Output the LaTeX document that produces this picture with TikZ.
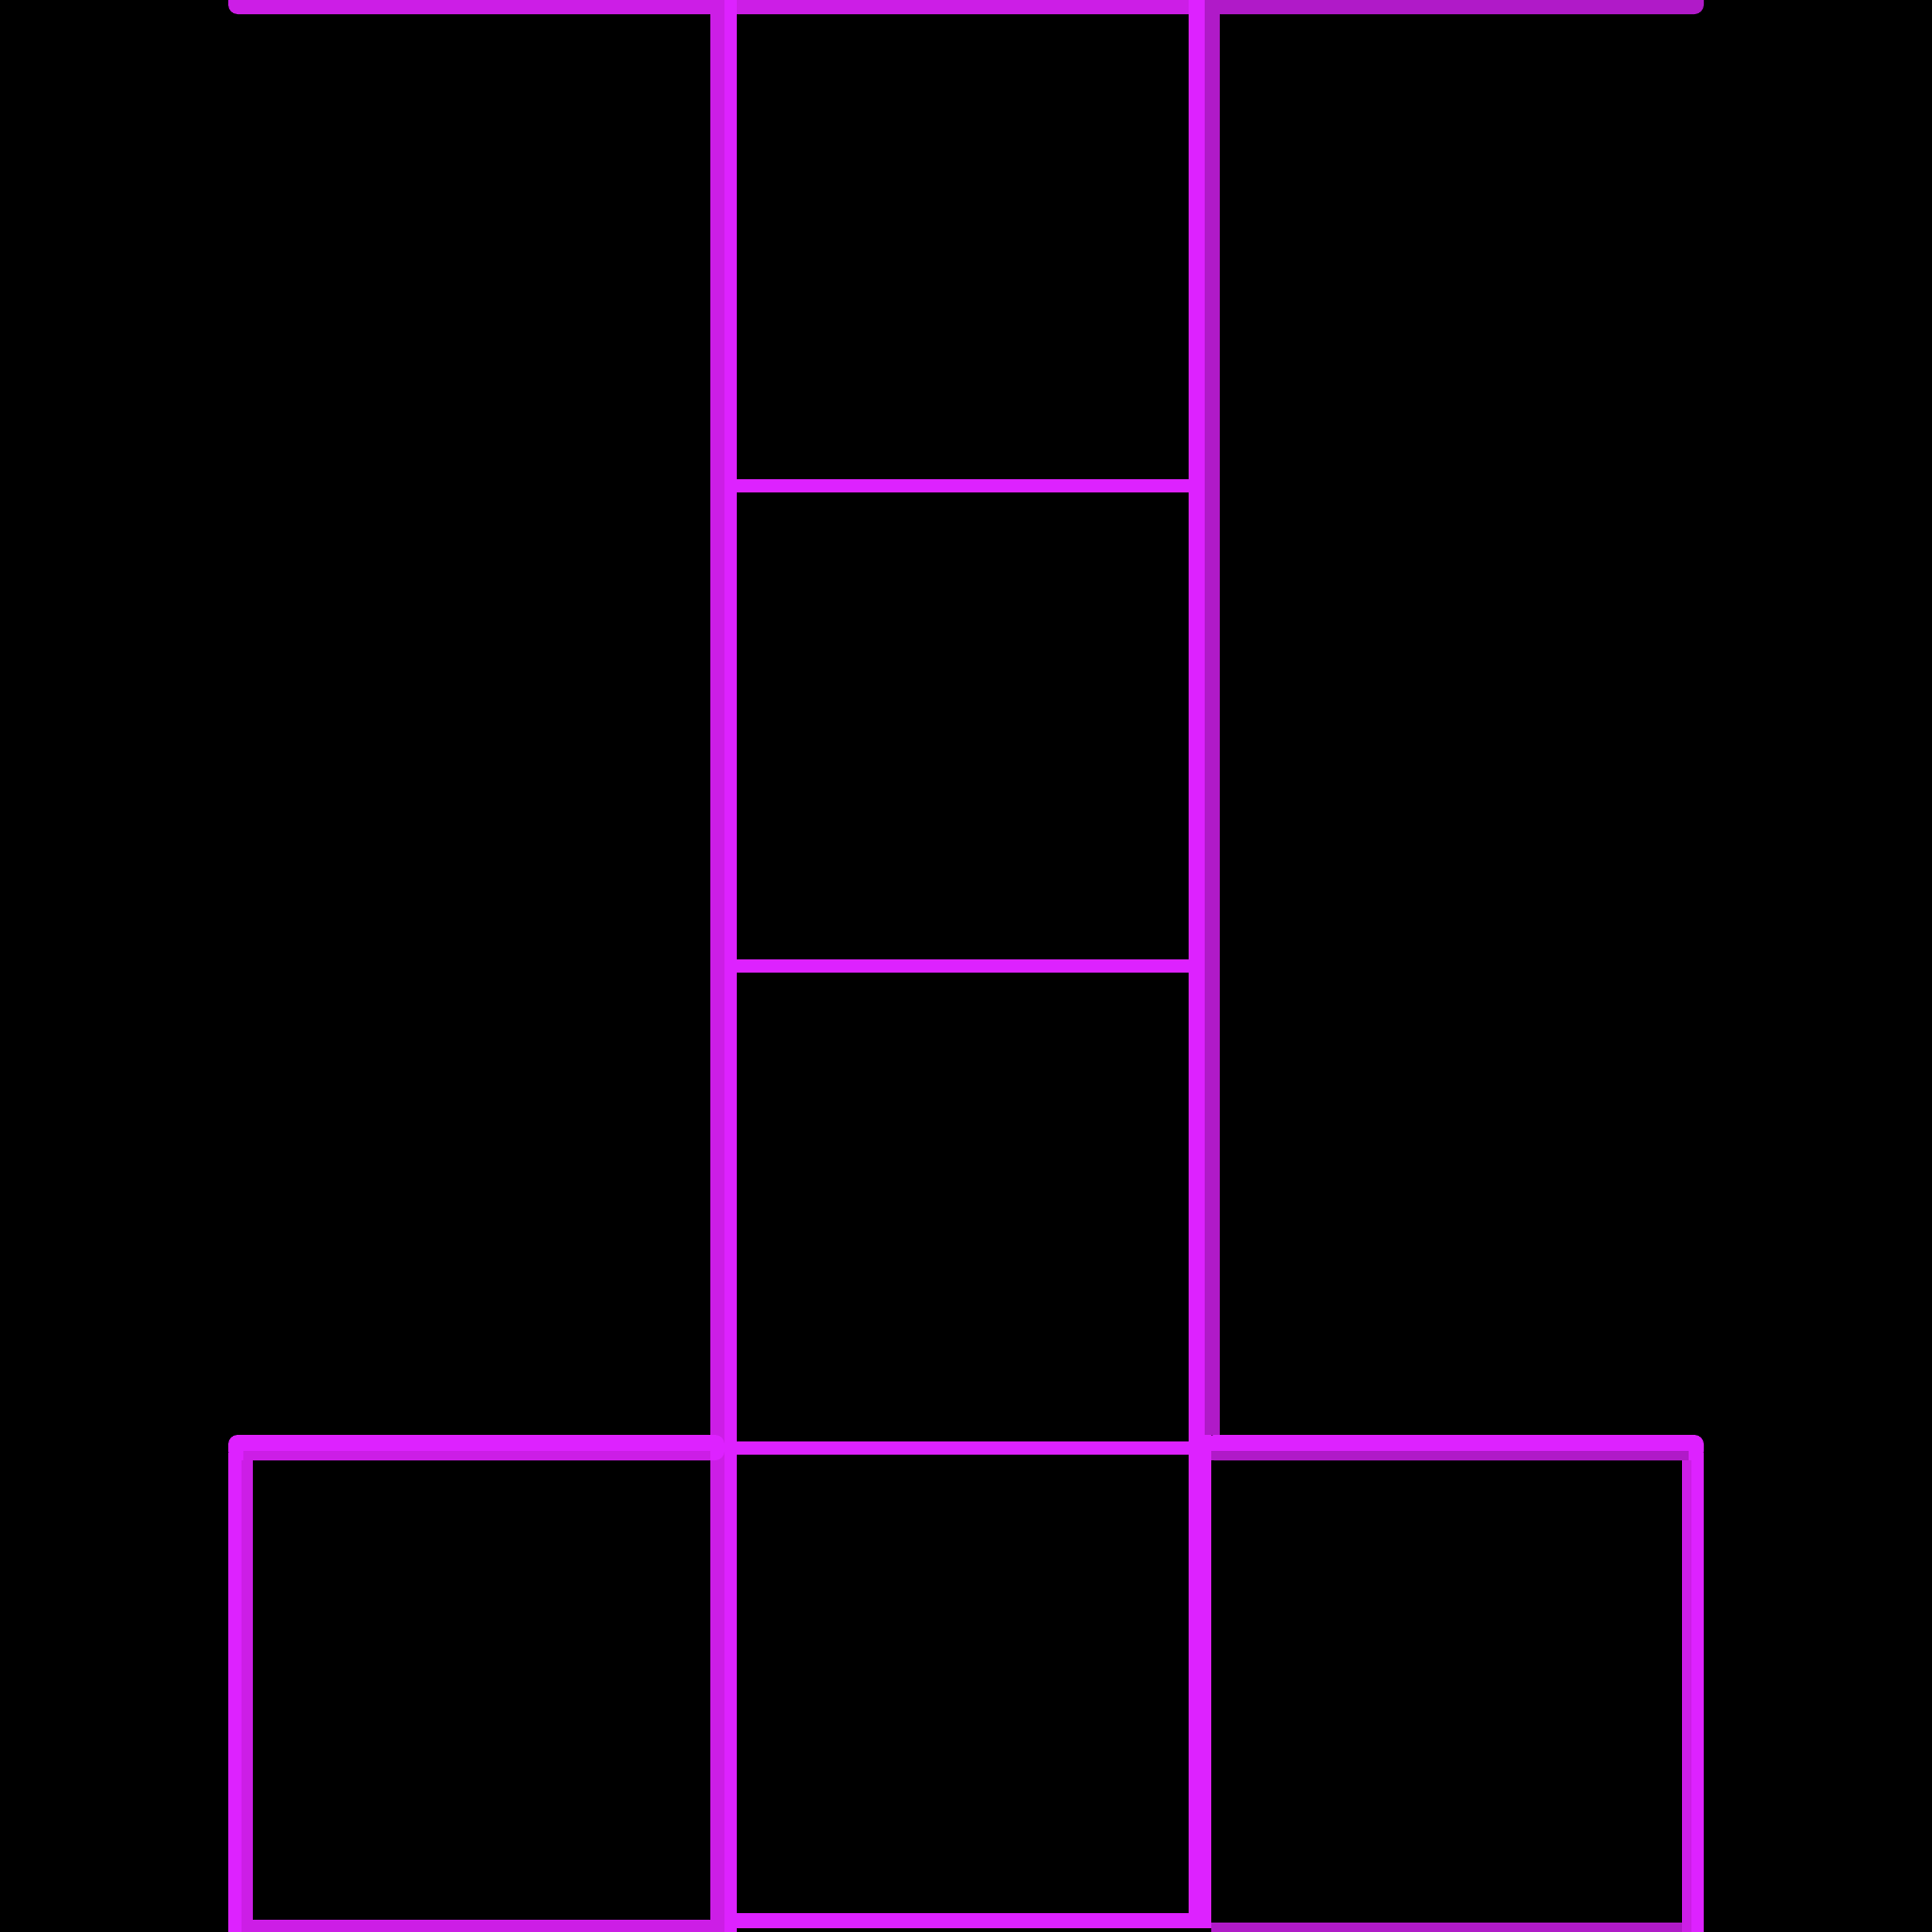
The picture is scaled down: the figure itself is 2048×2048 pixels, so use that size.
\documentclass[tikz,border=0pt]{standalone}
\usepackage{xcolor}
\usepackage{tikz}
\definecolor{brightmag}{RGB}{221,34,255}
\definecolor{midmag}{RGB}{204,30,230}
\definecolor{darkmag}{RGB}{176,26,200}
\tikzset{
  bright/.style={fill=brightmag},
  mid/.style={fill=midmag},
  dark/.style={fill=darkmag}
}

\begin{document}
\begin{tikzpicture}[x=0.01cm,y=-0.01cm]
		\fill[black] (0,0) rectangle (2048,2048);
		\useasboundingbox (0,0) rectangle (2048,2048);
		% top bar
		\fill[mid, rounded corners=0.1cm] (242,-40) rectangle (1300,15);
		\fill[dark, rounded corners=0.1cm] (1280,-40) rectangle (1806,15);
		\fill[dark] (1280,-40) rectangle (1300,15);
		% column sides
		\fill[mid] (753,0) rectangle (768,2048);
		\fill[bright] (768,0) rectangle (781,2048);
		\fill[bright] (1260,0) rectangle (1277,1521);
		\fill[dark] (1277,0) rectangle (1293,1521);
		\fill[bright] (1260,1521) rectangle (1284,2044);
		% column dividers
		\foreach \yy in {515,1024,1535} {
			\fill[bright] (781,\yy-7) rectangle (1260,\yy+7);
		}
		\fill[bright] (768,2028) rectangle (1284,2044);
		% left square
		\fill[bright, rounded corners=0.1cm] (242,1521) rectangle (768,1548);
		\fill[mid] (258,1538) rectangle (753,1548);
		\fill[bright] (242,1540) rectangle (256,2048);
		\fill[mid] (256,1548) rectangle (268,2048);
		\fill[mid] (268,2035) rectangle (753,2048);
		% right square
		\fill[bright, rounded corners=0.1cm] (1277,1521) rectangle (1806,1548);
		\fill[dark] (1284,1538) rectangle (1790,1548);
		\fill[mid] (1783,1548) rectangle (1793,2048);
		\fill[bright] (1793,1540) rectangle (1806,2048);
		\fill[dark] (1284,2038) rectangle (1783,2048);
	\end{tikzpicture}
\end{document}
